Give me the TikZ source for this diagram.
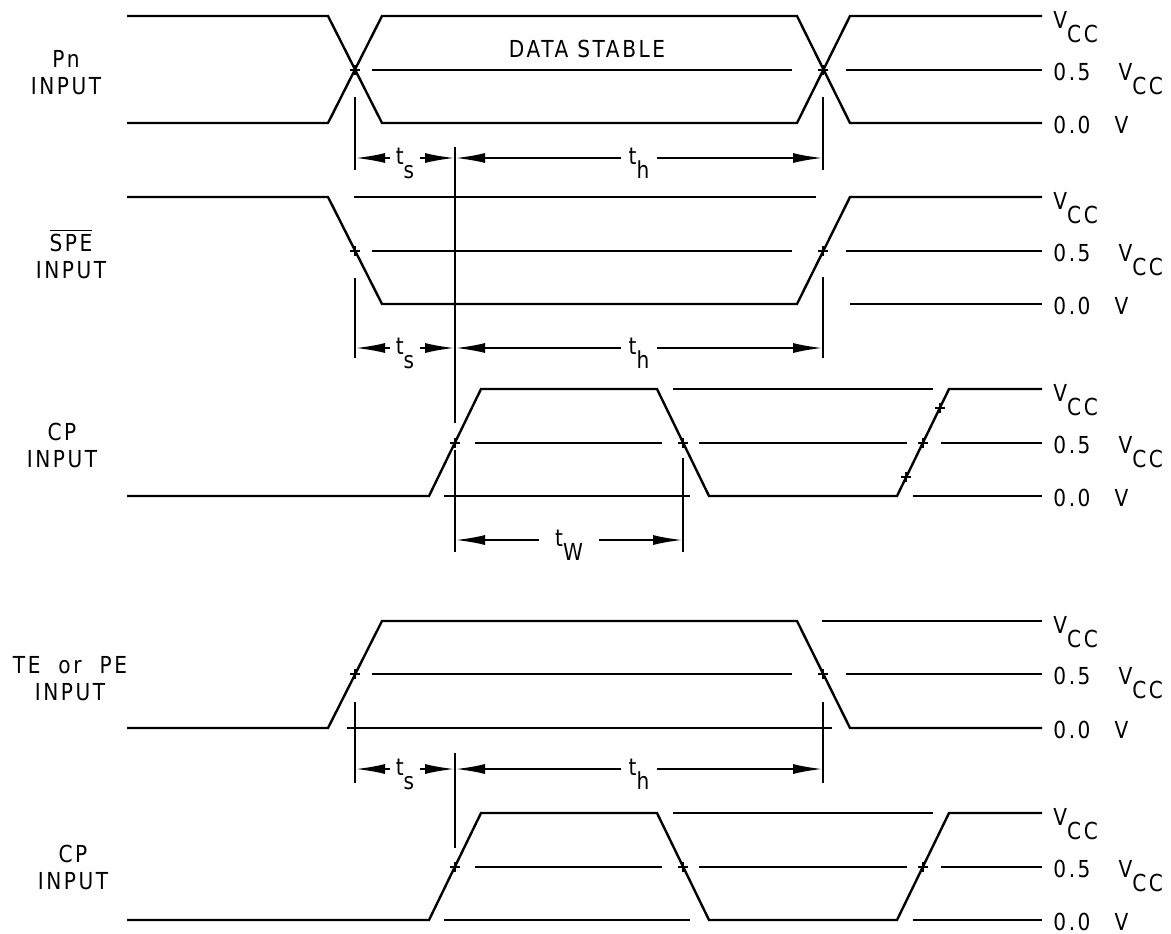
\documentclass[tikz,border=0pt]{standalone}
\usepackage{fontspec}
\newfontfamily\plotfont[FakeStretch=0.86,LetterSpace=11]{DejaVu Sans}
\usetikzlibrary{arrows.meta}
\tikzset{
  % signal levels and edges
  wave/.style={line width=1.2pt,line join=miter},
  extline/.style={line width=1.1pt},
  % timing dimensions
  dim/.style={line width=1.1pt,
    {Latex[length=15pt,width=5pt]}-{Latex[length=15pt,width=5pt]}},
  dimlabel/.style={fill=white,inner xsep=3pt,inner ysep=1pt,yshift=-2.5pt,
    font=\plotfont\fontsize{11.7}{13}\selectfont},
  sig/.style={font=\plotfont\fontsize{11.7}{13.5}\selectfont,align=center},
  lvl/.style={anchor=base west,inner sep=0pt,
    font=\plotfont\fontsize{11.7}{13}\selectfont},
  % measuring point
  vtick/.pic={\draw[wave] (-5,0) -- (5,0) (0,-5) -- (0,5);},
}
\newcommand{\lowered}[1]{\raisebox{-7pt}{#1}}
\begin{document}
\begin{tikzpicture}[x=0.5pt,y=-0.5pt]
  \useasboundingbox (0,0) rectangle (1171,933);
  % signal names
  \node[sig] (pn) at (66,73) {Pn\\INPUT};
  \node[sig] (spe) at (71,254) {$\overline{\mbox{SPE}}$\\INPUT};
  \node[sig] (cpa) at (62,445) {CP\\INPUT};
  \node[sig] (te) at (70,679) {TE\ \ or\ \ PE\\INPUT};
  \node[sig] (cpb) at (73,867) {CP\\INPUT};
  % levels on the right
  \foreach \t/\m/\l [count=\i] in {16/70/123,197/251/304,389/443/496,621/674/728,813/867/920}{
    \node[lvl] (vcc\i) at (1053,\t+12) {V\lowered{CC}};
    \node[lvl] (half\i) at (1053,\m+10) {0.5\hspace{14pt}V\lowered{CC}};
    \node[lvl] (gnd\i) at (1053,\l+10) {0.0\hspace{12pt}V};
  }
  % Pn input
  \draw[wave] (127,16) -- (328,16) -- (382,123) -- (797,123) -- (850,16) -- (1042,16);
  \draw[wave] (127,123) -- (328,123) -- (382,16) -- (797,16) -- (850,123) -- (1042,123);
  \draw[wave] (372,70) -- (792,70) (846,70) -- (1042,70);
  \node[sig] (stable) at (587,49) {DATA STABLE};
  \pic at (355,70) {vtick};
  \pic at (823,70) {vtick};
  % SPE input
  \draw[wave] (127,197) -- (328,197) -- (382,304) -- (797,304) -- (850,197) -- (1042,197);
  \draw[wave] (354,197) -- (816,197);
  \draw[wave] (372,251) -- (792,251) (846,251) -- (1042,251);
  \draw[wave] (850,304) -- (1042,304);
  \pic at (355,251) {vtick};
  \pic at (823,251) {vtick};
  % CP inputs
  \foreach \t/\m/\l in {389/443/496,813/867/920}{
    \draw[wave] (127,\l) -- (429,\l) -- (481,\t) -- (657,\t) -- (709,\l)
      -- (897,\l) -- (949,\t) -- (1042,\t);
    \draw[wave] (673,\t) -- (933,\t);
    \draw[wave] (475,\m) -- (662,\m) (699,\m) -- (907,\m) (941,\m) -- (1042,\m);
    \draw[wave] (444,\l) -- (690,\l) (913,\l) -- (1042,\l);
    \pic at (455,\m) {vtick};
    \pic at (683,\m) {vtick};
    \pic at (923,\m) {vtick};
  }
  \pic at (940,408) {vtick};
  \pic at (906,477) {vtick};
  % TE or PE input
  \draw[wave] (127,728) -- (328,728) -- (382,621) -- (797,621) -- (850,728) -- (1042,728);
  \draw[wave] (822,621) -- (1042,621);
  \draw[wave] (372,674) -- (792,674) (846,674) -- (1042,674);
  \draw[wave] (347,728) -- (832,728);
  \pic at (355,674) {vtick};
  \pic at (823,674) {vtick};
  % reference lines
  \draw[extline] (355,97) -- (355,170) (823,97) -- (823,170);
  \draw[extline] (355,278) -- (355,358) (823,277) -- (823,358);
  \draw[extline] (455,147) -- (455,423) (455,450) -- (455,552);
  \draw[extline] (683,458) -- (683,552);
  \draw[extline] (355,702) -- (355,783) (823,702) -- (823,783);
  \draw[extline] (455,753) -- (455,848);
  % setup, hold and width
  \foreach \y [count=\i] in {158,348,769}{
    \coordinate (sa\i) at (355,\y);
    \coordinate (sb\i) at (455,\y);
    \coordinate (sc\i) at (823,\y);
    \draw[dim] (sa\i) -- node[dimlabel] {t\lowered{s}} (sb\i);
    \draw[dim] (sb\i) -- node[dimlabel,inner xsep=4pt] {t\lowered{h}} (sc\i);
  }
  \coordinate (wa) at (455,540);
  \coordinate (wb) at (683,540);
  \draw[dim] (wa) -- node[dimlabel,inner xsep=8pt] {t\lowered{W}} (wb);
\end{tikzpicture}
\end{document}
